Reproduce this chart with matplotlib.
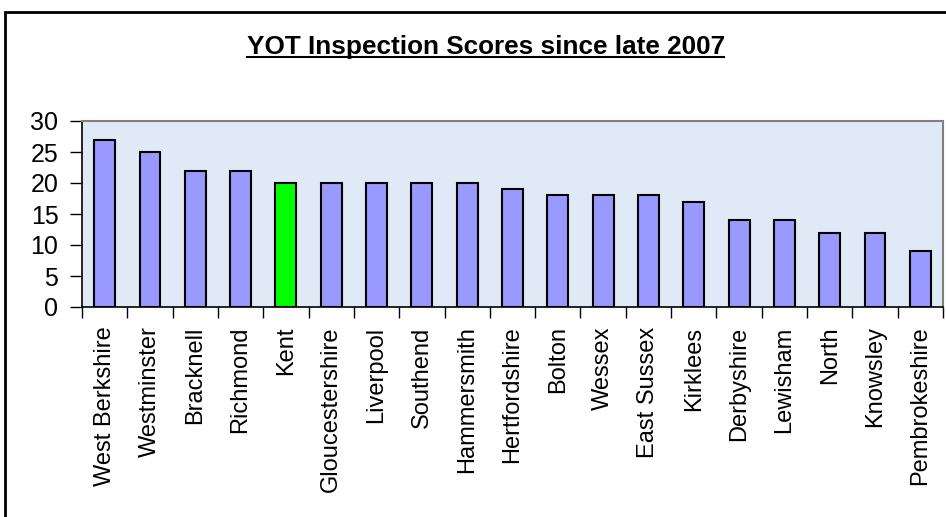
import numpy as np
import matplotlib
matplotlib.use("Agg")
from matplotlib import pyplot as plt
from matplotlib.patches import Rectangle
from matplotlib.ticker import FixedLocator

teams = ["West Berkshire", "Westminster", "Bracknell", "Richmond", "Kent",
         "Gloucestershire", "Liverpool", "Southend", "Hammersmith", "Hertfordshire",
         "Bolton", "Wessex", "East Sussex", "Kirklees", "Derbyshire",
         "Lewisham", "North", "Knowsley", "Pembrokeshire"]
scores = [27, 25, 22, 22, 20, 20, 20, 20, 20, 19, 18, 18, 18, 17, 14, 14, 12, 12, 9]
highlight = "Kent"
y_ticks = [0, 5, 10, 15, 20, 25, 30]

plt.rcParams['font.family'] = ['Liberation Sans', 'DejaVu Sans']

fig = plt.figure(figsize=(9.46, 5.17), dpi=100)
fig.patch.set_facecolor("white")

# outer chart frame (runs off the right and bottom edge like the original)
fig.patches.append(Rectangle((5 / 946, -0.05), 1.0, 1 - 12 / 517 + 0.05,
                             transform=fig.transFigure, fill=False,
                             edgecolor="black", linewidth=2))

ax = fig.add_axes([82 / 946, 1 - 307 / 517, (943 - 82) / 946, (307 - 121) / 517])
ax.set_facecolor("#dfeaf6")

x = np.arange(len(teams))
colors = ["#00ff00" if t == highlight else "#9999ff" for t in teams]
ax.bar(x, scores, width=0.46, color=colors, edgecolor="black", linewidth=1.5, zorder=3)

ax.set_xlim(-0.5, len(teams) - 0.5)
ax.set_ylim(0, 30)
ax.set_yticks(y_ticks)
ax.set_xticks(x)
ax.set_xticklabels(teams, rotation=90, fontsize=17)
ax.xaxis.set_minor_locator(FixedLocator(np.arange(-0.5, len(teams) + 0.5, 1)))
ax.tick_params(axis="x", which="major", length=0, pad=14)
ax.tick_params(axis="x", which="minor", length=8, width=1, direction="out")
ax.tick_params(axis="y", length=9, width=1, pad=8, labelsize=18)

for side in ["top", "right"]:
    ax.spines[side].set_color("#808080")
    ax.spines[side].set_linewidth(1.5)
for side in ["left", "bottom"]:
    ax.spines[side].set_color("black")
    ax.spines[side].set_linewidth(1.2)

fig.text(486 / 946, 1 - 47 / 517, "YOT Inspection Scores since late 2007",
         ha="center", va="center", fontsize=18.8, fontweight="bold")
fig.add_artist(plt.Line2D([247 / 946, 724 / 946], [1 - 57 / 517, 1 - 57 / 517],
                          transform=fig.transFigure, color="black", linewidth=1.5))

fig.savefig("out.png", dpi=100)
